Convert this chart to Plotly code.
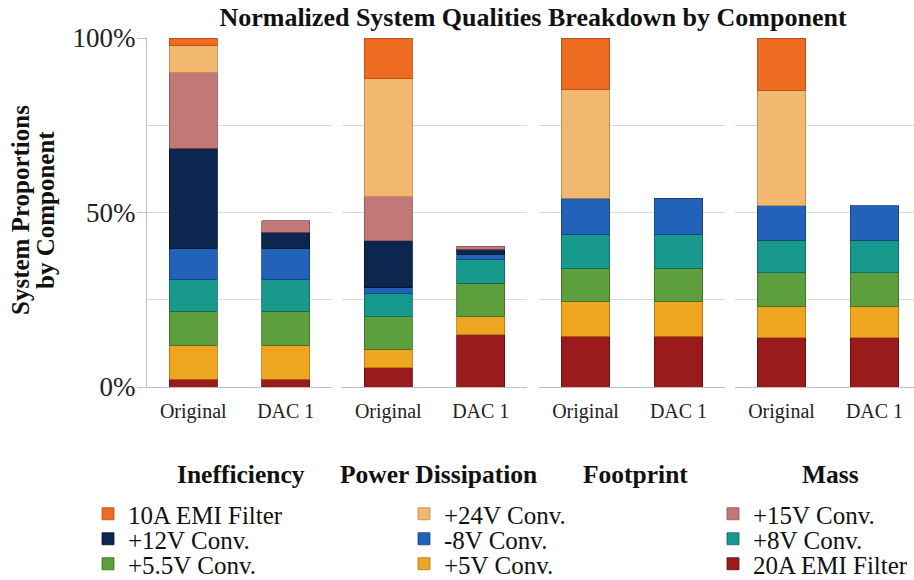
import plotly.graph_objects as go

# ---------------- data ----------------
groups = ["Inefficiency", "Power Dissipation", "Footprint", "Mass"]
designs = ["Original", "DAC 1"]

# share of each component (%), bar order:
# Ineff-Orig, Ineff-DAC1, Power-Orig, Power-DAC1, Foot-Orig, Foot-DAC1, Mass-Orig, Mass-DAC1
emi20 = [2.2, 2.2, 5.5, 15.0, 14.6, 14.6, 14.1, 14.1]
conv5 = [9.8, 9.8, 5.3, 5.1, 9.8, 9.8, 9.1, 9.1]
conv55 = [9.7, 9.7, 9.3, 9.6, 9.6, 9.6, 9.5, 9.5]
conv8 = [9.1, 9.1, 6.7, 6.7, 9.8, 9.8, 9.4, 9.4]
convm8 = [8.9, 8.9, 1.7, 1.6, 10.3, 10.3, 9.9, 9.9]
conv12 = [28.7, 4.6, 13.4, 1.4, 0, 0, 0, 0]
conv15 = [21.7, 3.4, 12.6, 1.0, 0, 0, 0, 0]
conv24 = [7.7, 0, 33.8, 0, 31.1, 0, 33.0, 0]
emi10 = [2.2, 0, 11.7, 0, 14.8, 0, 15.0, 0]

component_names = ["20A EMI Filter", "+5V Conv.", "+5.5V Conv.", "+8V Conv.", "-8V Conv.",
                   "+12V Conv.", "+15V Conv.", "+24V Conv.", "10A EMI Filter"]
component_values = [emi20, conv5, conv55, conv8, convm8, conv12, conv15, conv24, emi10]

y_tick_vals = [0, 50, 100]
y_tick_text = ["0%", "50%", "100%"]

# ---------------- styling ----------------
fill_colors = ["#9B1A1C", "#EEA51F", "#5E9F3D", "#17998E", "#2262B8",
               "#0D2650", "#C27878", "#F2B870", "#EE6C22"]
edge_colors = ["#5E0C0E", "#B07410", "#3B6B22", "#0C6760", "#143F7A",
               "#050F22", "#8E5050", "#B8844A", "#B44C12"]

# legend grid: row / column for each component
legend_cell = {
    "10A EMI Filter": (0, 0), "+24V Conv.": (0, 1), "+15V Conv.": (0, 2),
    "+12V Conv.": (1, 0), "-8V Conv.": (1, 1), "+8V Conv.": (1, 2),
    "+5.5V Conv.": (2, 0), "+5V Conv.": (2, 1), "20A EMI Filter": (2, 2),
}
W, H = 914, 580
legend_col_px = [88, 404, 713]
legend_row_px = [514, 539, 564]

serif = "Liberation Serif"
grid_col = "#D9D9D9"
axis_col = "#BFBFBF"

# subplot pixel extents
dom_px = [(147, 332), (342, 527), (539, 725), (735, 914)]
x_ranges = [[-0.5, 1.5], [-0.5, 1.5], [-0.5, 1.5], [-0.5, -0.5 + 179 / 93.0]]
group_label_px = [241, 438, 635, 830]

fig = go.Figure()

legend_keys = list(legend_cell.keys())
for ci, (name, vals) in enumerate(zip(component_names, component_values)):
    li = legend_keys.index(name)
    for gi in range(len(groups)):
        yv = [vals[2 * gi], vals[2 * gi + 1]]
        yv = [v if v else None for v in yv]
        suffix = "" if gi == 0 else str(gi + 1)
        fig.add_trace(go.Bar(
            x=designs, y=yv, name=name,
            xaxis="x" + suffix, yaxis="y" + suffix,
            marker=dict(color=fill_colors[ci], line=dict(color=edge_colors[ci], width=0.8)),
            showlegend=(gi == 0),
            legend="legend" if li == 0 else "legend" + str(li + 1),
        ))

layout = dict(
    width=W, height=H,
    margin=dict(l=0, r=0, t=0, b=0, pad=0, autoexpand=False),
    paper_bgcolor="white", plot_bgcolor="white",
    barmode="stack", bargap=0.48,
    font=dict(family=serif, color="#111111"),
    title=dict(text="<b>Normalized System Qualities Breakdown by Component</b>",
               x=533 / W, xanchor="center", y=1 - 17 / H, yanchor="middle",
               font=dict(size=26, family=serif, color="#111111")),
)

y_dom = [(H - 387) / H, (H - 38) / H]
for gi in range(len(groups)):
    suffix = "" if gi == 0 else str(gi + 1)
    x0, x1 = dom_px[gi]
    layout["xaxis" + suffix] = dict(
        domain=[x0 / W, x1 / W], anchor="y" + suffix, type="category",
        range=x_ranges[gi], showgrid=False, showline=True, linecolor=axis_col,
        linewidth=1, ticks="", tickfont=dict(size=20, family=serif, color="#222222"),
        ticklabelstandoff=6, fixedrange=True,
    )
    ya = dict(
        domain=y_dom, anchor="x" + suffix, range=[0, 100],
        showgrid=True, gridcolor=grid_col, gridwidth=1, zeroline=False,
        tickvals=y_tick_vals, ticktext=y_tick_text,
        minor=dict(dtick=25, tick0=0, showgrid=True, gridcolor=grid_col, gridwidth=1, ticks=""),
        fixedrange=True,
    )
    if gi == 0:
        ya.update(showline=True, linecolor=axis_col, linewidth=1, ticks="outside",
                  ticklen=9, tickcolor=axis_col, ticklabelstandoff=-4,
                  tickfont=dict(size=27, family=serif, color="#222222"))
    else:
        ya.update(showline=False, ticks="", showticklabels=False, matches="y")
    layout["yaxis" + suffix] = ya

# legends (one per entry, laid out on a 3 x 3 grid)
for li, (name, (r, c)) in enumerate(legend_cell.items()):
    key = "legend" if li == 0 else "legend" + str(li + 1)
    layout[key] = dict(
        x=legend_col_px[c] / W, xanchor="left",
        y=(H - legend_row_px[r]) / H, yanchor="middle",
        orientation="v", bgcolor="rgba(0,0,0,0)",
        font=dict(size=25, family=serif, color="#111111"),
        itemclick=False, itemdoubleclick=False,
    )

annotations = []
for gi, g in enumerate(groups):
    annotations.append(dict(text="<b>" + g + "</b>", xref="paper", yref="paper",
                            x=group_label_px[gi] / W, y=(H - 474) / H,
                            xanchor="center", yanchor="middle", showarrow=False,
                            font=dict(size=25.5, family=serif, color="#111111")))
for txt, px in [("System Proportions", 21), ("by Component", 46)]:
    annotations.append(dict(text="<b>" + txt + "</b>", xref="paper", yref="paper",
                            x=px / W, y=(H - 210) / H, xanchor="center", yanchor="middle",
                            textangle=-90, showarrow=False,
                            font=dict(size=25, family=serif, color="#111111")))
layout["annotations"] = annotations

fig.update_layout(**layout)
fig.write_html("out.html",
               config={"displayModeBar": False},
               post_script="document.body.style.margin='0';document.body.style.padding='0';"
                           "document.body.style.overflow='hidden';")
